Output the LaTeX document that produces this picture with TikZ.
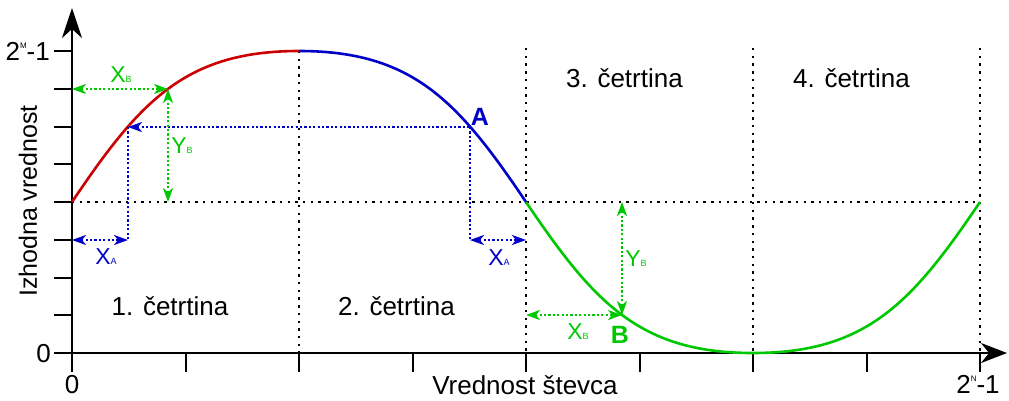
\documentclass[tikz,border=0pt]{standalone}
\usepackage{fontspec}
\setmainfont{Liberation Sans}
\usetikzlibrary{arrows.meta}
\definecolor{qred}{RGB}{204,0,0}
\definecolor{qblue}{RGB}{0,0,200}
\definecolor{qgreen}{RGB}{0,200,0}
\tikzset{>={Stealth[length=14pt,width=10pt,inset=4pt]}}
\tikzset{
  axis/.style={black,line width=2pt},
  griddots/.style={black,line width=2.4pt,dash pattern=on 2.4pt off 5.3pt},
  meas/.style={line width=2.2pt,dash pattern=on 2.2pt off 2.2pt},
  wave/.style={line width=2.6pt},
  lbl/.style={font=\fontsize{26}{30}\selectfont,inner sep=0pt,anchor=base},
  sublbl/.style={font=\fontsize{23}{27}\selectfont,inner sep=0pt},
}
\newcommand{\idx}[2]{#1{\fontsize{9}{9}\selectfont #2}}

\begin{document}
\begin{tikzpicture}[x=1pt,y=-1pt]
  \useasboundingbox (0,0) rectangle (1009,400);
  % key points of the wave
  \coordinate (O) at (72,353);
  \coordinate (M0) at (72,202); % start, mid level
  \coordinate (T) at (299,51); % top
  \coordinate (M1) at (526,202);
  \coordinate (Bt) at (753,353); % bottom
  \coordinate (M2) at (980,202);
  \coordinate (pA1) at (128,127); \coordinate (pA2) at (470,127);
  \coordinate (pB1) at (168,89); \coordinate (pB2) at (622,315);
  \coordinate (ya) at (72,240);
  % dotted grid
  \draw[griddots] (M0) -- (M2);
  \draw[griddots] (T) -- (T |- O);
  \foreach \x in {526,753,980}{ % quarter borders
    \draw[griddots] (\x,48) -- (\x,353);
  }
  % axes
  \foreach \k in {0,...,8}{ % y ticks
    \draw[axis] (54,{51+37.75*\k}) -- (72,{51+37.75*\k});
  }
  \foreach \k in {1,...,8}{ % x ticks
    \draw[axis] ({72+113.5*\k},353) -- ({72+113.5*\k},372);
  }
  \draw[axis,-{Stealth[length=30pt,width=20pt,inset=9pt]}] (72,372) -- (72,8);
  \draw[axis,-{Stealth[length=26pt,width=20pt,inset=8pt]}] (54,353) -- (1007,353);
  % the wave, one quarter per colour
  \draw[wave,qred] (M0) .. controls (140.1,100.8) and (185.5,51) .. (T);
  \draw[wave,qblue] (T) .. controls (412.5,51) and (457.9,100.8) .. (M1);
  \draw[wave,qgreen] (M1) .. controls (594.1,302.8) and (639.5,353) .. (Bt)
    .. controls (866.5,353) and (911.9,302.8) .. (M2);
  % point A
  \draw[meas,qblue,<-] (pA1) -- (pA2);
  \draw[meas,qblue] (pA1) -- (pA1 |- ya);
  \draw[meas,qblue,<->] (ya) -- (pA1 |- ya);
  \draw[meas,qblue] (pA2) -- (pA2 |- ya);
  \draw[meas,qblue,<->] (pA2 |- ya) -- (M1 |- ya);
  % point B
  \draw[meas,qgreen,<->] (pB1 -| O) -- (pB1);
  \draw[meas,qgreen,<->] (pB1) -- (pB1 |- M0);
  \draw[meas,qgreen,<->] (pB2 |- M1) -- (pB2);
  \draw[meas,qgreen,<->] (M1 |- pB2) -- (pB2);
  % labels
  \node[lbl,anchor=base east] (ymax) at (50,60) {2\raisebox{12pt}{\fontsize{8}{8}\selectfont M}-1};
  \node[lbl,anchor=base east] (yzero) at (51,362.5) {0};
  \node[lbl] (xzero) at (72,393) {0};
  \node[lbl] (xmax) at (978,393) {2\raisebox{12pt}{\fontsize{8}{8}\selectfont N}-1};
  \node[lbl] (xname) at (525,394.5) {Vrednost števca};
  \node[lbl,font=\fontsize{25}{30}\selectfont,rotate=90,anchor=center] (yname) at (28,201) {Izhodna vrednost};
  \foreach \x/\y/\n in {170/315/1,396.5/315/2,624.5/87/3,851.5/87/4}{ % quarters
    \node[lbl] (q\n) at (\x,\y) {\n. četrtina};
  }
  \node[lbl,font=\bfseries\fontsize{25}{30}\selectfont,text=qblue,anchor=center] (nA) at (480,117) {A};
  \node[lbl,font=\bfseries\fontsize{25}{30}\selectfont,text=qgreen,anchor=center] (nB) at (620,335) {B};
  \node[sublbl,text=qgreen] (xb1) at (121,75) {\idx{X}{B}};
  \node[sublbl,text=qgreen] (yb1) at (182,146) {\idx{Y}{B}};
  \node[sublbl,text=qblue] (xa1) at (106,257) {\idx{X}{A}};
  \node[sublbl,text=qblue] (xa2) at (499,258) {\idx{X}{A}};
  \node[sublbl,text=qgreen] (yb2) at (636,259) {\idx{Y}{B}};
  \node[sublbl,text=qgreen] (xb2) at (578,332) {\idx{X}{B}};
\end{tikzpicture}
\end{document}
